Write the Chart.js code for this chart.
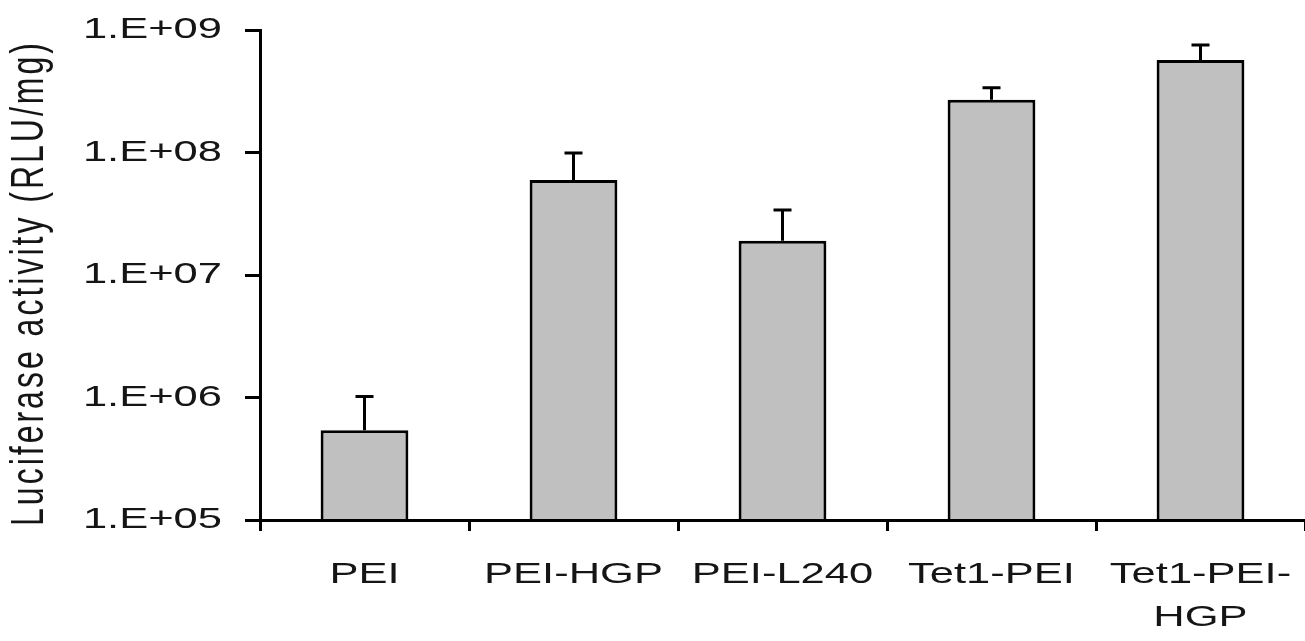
<!DOCTYPE html>
<html>
<head>
<meta charset="utf-8">
<title>Luciferase activity</title>
<script src="https://cdn.jsdelivr.net/npm/chart.js@4.4.1/dist/chart.umd.min.js"></script>
<style>
  html, body { margin: 0; background: #fff; }
  #wrap { width: 1305px; height: 641px; position: relative; }
</style>
</head>
<body>
<div id="wrap"><canvas id="chart"></canvas></div>
<script>
// values
const categories = ['PEI', 'PEI-HGP', 'PEI-L240', 'Tet1-PEI', ['Tet1-PEI-', 'HGP']];
const activity = [5.4e5, 5.97e7, 1.9e7, 2.7e8, 5.7e8];
const activityUpper = [1.02e6, 9.9e7, 3.4e7, 3.37e8, 7.55e8]; // top of error bars
const yTicks = [1e5, 1e6, 1e7, 1e8, 1e9];
const yTitle = 'Luciferase activity (RLU/mg)';

const textColor = '#151515';
const fontFamily = '"Liberation Sans", Arial, sans-serif';
const textStretch = 1.45; // the source figure was stretched sideways

// widen all text horizontally (screen x) around its anchor point
const wideText = {
  id: 'wideText',
  beforeInit(chart) {
    const ctx = chart.ctx;
    const fill = ctx.fillText.bind(ctx);
    ctx.fillText = function (text, x, y, maxWidth) {
      const m = ctx.getTransform();
      const p = m.transformPoint(new DOMPoint(x, y));
      ctx.save();
      ctx.setTransform(new DOMMatrix()
        .translate(p.x, p.y)
        .scale(textStretch, 1)
        .translate(-p.x, -p.y)
        .multiply(m));
      fill(text, x, y);
      ctx.restore();
    };
  }
};

const errorBars = {
  id: 'errorBars',
  afterDatasetsDraw(chart) {
    const { ctx, scales: { y } } = chart;
    const bars = chart.getDatasetMeta(0).data;
    ctx.save();
    ctx.strokeStyle = '#000';
    ctx.lineWidth = 3;
    bars.forEach((bar, i) => {
      const top = y.getPixelForValue(activityUpper[i]);
      ctx.beginPath();
      ctx.moveTo(bar.x, bar.y);
      ctx.lineTo(bar.x, top);
      ctx.moveTo(bar.x - 9, top);
      ctx.lineTo(bar.x + 9, top);
      ctx.stroke();
    });
    ctx.restore();
  }
};

const chart = new Chart(document.getElementById('chart'), {
  type: 'bar',
  data: {
    labels: categories,
    datasets: [{
      data: activity,
      backgroundColor: '#c0c0c0',
      borderColor: '#000',
      borderWidth: 3,
      borderSkipped: 'bottom',
      barPercentage: 0.42,
      categoryPercentage: 1
    }]
  },
  options: {
    responsive: true,
    maintainAspectRatio: false,
    animation: false,
    layout: { padding: { top: 30, left: 0, right: 0, bottom: 0 } },
    plugins: {
      legend: { display: false },
      tooltip: { enabled: false }
    },
    scales: {
      x: {
        offset: true,
        grid: { offset: true, drawOnChartArea: false, drawTicks: true, tickLength: 11, color: '#000', lineWidth: 3 },
        border: { display: true, color: '#000', width: 3, z: 1 },
        ticks: {
          color: textColor,
          font: { family: fontFamily, size: 30, lineHeight: 1.43 },
          padding: 22,
          autoSkip: false,
          maxRotation: 0,
          minRotation: 0
        },
        afterFit(scale) { scale.height = 121; }
      },
      y: {
        type: 'logarithmic',
        min: 1e5,
        max: 1e9,
        afterBuildTicks(scale) {
          scale.ticks = yTicks.map(v => ({ value: v }));
        },
        grid: { drawOnChartArea: false, drawTicks: true, tickLength: 15, color: '#000', lineWidth: 3 },
        border: { display: true, color: '#000', width: 3, z: 1 },
        ticks: {
          color: textColor,
          // small lineHeight keeps the top label from pushing the plot area down
          font: { family: fontFamily, size: 30, lineHeight: 0.4 },
          padding: 23,
          callback: v => '1.E+' + String(Math.round(Math.log10(v))).padStart(2, '0')
        },
        title: {
          display: true,
          text: yTitle,
          color: textColor,
          font: { family: fontFamily, size: 32 },
          padding: { top: 11, bottom: 0 }
        },
        afterFit(scale) { scale.width = 260; }
      }
    }
  },
  plugins: [wideText, errorBars]
});

// y title: a little letter spacing and nudged down to sit where the original does
const yScale = chart.scales.y;
const drawTitle = yScale.drawTitle.bind(yScale);
yScale.drawTitle = function () {
  const ctx = chart.ctx;
  ctx.save();
  ctx.letterSpacing = '3px';
  ctx.translate(0, 8);
  drawTitle();
  ctx.restore();
};
chart.draw();
</script>
</body>
</html>
